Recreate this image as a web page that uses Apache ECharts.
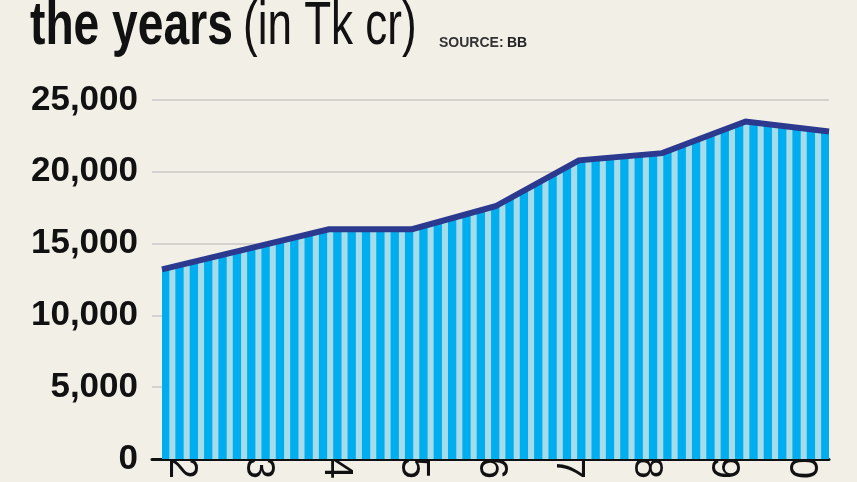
<!DOCTYPE html>
<html>
<head>
<meta charset="utf-8">
<script src="https://cdn.jsdelivr.net/npm/echarts@6/dist/echarts.min.js"></script>
<style>
  html, body { margin: 0; padding: 0; background: #F2EFE7; }
  #chart { width: 857px; height: 482px; }
</style>
</head>
<body>
<div id="chart"></div>
<script>
// ---- data ----
const years = ['2012', '2013', '2014', '2015', '2016', '2017', '2018', '2019', '2020'];
const deposits = [13200, 14600, 16000, 16000, 17600, 20800, 21300, 23500, 22800];
const yMin = 0, yMax = 25000, yStep = 5000;
const titleMain = 'the years';
const titleUnit = '(in Tk cr)';
const sourceLabel = 'SOURCE:';
const sourceName = 'BB';

// ---- striped pattern for the area ----
const period = 14.35, darkW = 8.3, startX = 161;
const pat = document.createElement('canvas');
pat.width = 287; pat.height = 4;
const pctx = pat.getContext('2d');
pctx.fillStyle = '#A6DCEA';
pctx.fillRect(0, 0, pat.width, pat.height);
pctx.fillStyle = '#00AEEF';
const off = startX % period;
for (let k = -1; k <= 21; k++) {
  const x0 = off + k * period;
  pctx.fillRect(x0, 0, darkW, pat.height);
}

const chart = echarts.init(document.getElementById('chart'), null, { renderer: 'canvas' });
const labelFont = '"Liberation Sans", Arial, sans-serif';

chart.setOption({
  backgroundColor: '#F2EFE7',
  animation: false,
  graphic: [
    { type: 'text', x: 30, y: 27, scaleX: 0.745,
      style: { text: titleMain, font: 'bold 62px "Liberation Sans", Arial, sans-serif', fill: '#111', verticalAlign: 'middle', align: 'left' } },
    { type: 'text', x: 243, y: 27, scaleX: 0.71,
      style: { text: titleUnit, font: '62px "Liberation Sans", Arial, sans-serif', fill: '#111', verticalAlign: 'middle', align: 'left' } },
    { type: 'text', x: 439, y: 43,
      style: { text: '{a|' + sourceLabel + '} {b|' + sourceName + '}', verticalAlign: 'middle', align: 'left',
        rich: {
          a: { fontFamily: labelFont, fontSize: 14, fontWeight: 600, fill: '#333', color: '#333' },
          b: { fontFamily: labelFont, fontSize: 14, fontWeight: 'bold', fill: '#222', color: '#222' }
        } } }
  ],
  grid: [
    { left: 152, right: 28, top: 100, bottom: 23 },
    { left: 162, right: 28, top: 100, bottom: 23 },
    { left: 181, right: 56, top: 100, bottom: 23 }
  ],
  xAxis: [
    { type: 'value', gridIndex: 0, min: 0, max: 1,
      axisLine: { show: true, lineStyle: { color: '#111', width: 3 } },
      axisTick: { show: false }, axisLabel: { show: false }, splitLine: { show: false } },
    { type: 'category', gridIndex: 1, data: years, boundaryGap: false, show: false },
    { type: 'category', gridIndex: 2, data: years, boundaryGap: false,
      axisLine: { show: false }, axisTick: { show: false }, splitLine: { show: false },
      axisLabel: { rotate: -90, interval: 0, margin: 11, fontFamily: labelFont, fontWeight: 'normal', fontSize: 40, color: '#111' } }
  ],
  yAxis: [
    { type: 'value', gridIndex: 0, min: yMin, max: yMax, interval: yStep,
      axisLine: { show: false }, axisTick: { show: false },
      axisLabel: { margin: 14, fontFamily: labelFont, fontWeight: 'bold', fontSize: 35, color: '#111',
        formatter: v => v.toLocaleString('en-US') },
      splitLine: { lineStyle: { color: '#D3D2CE', width: 2 } } },
    { type: 'value', gridIndex: 1, min: yMin, max: yMax, show: false, splitLine: { show: false } },
    { type: 'value', gridIndex: 2, min: yMin, max: yMax, show: false, splitLine: { show: false } }
  ],
  series: [
    { type: 'line', xAxisIndex: 1, yAxisIndex: 1, data: deposits, symbol: 'none',
      lineStyle: { color: '#2B3A8F', width: 6, cap: 'butt', join: 'miter' },
      areaStyle: { color: { image: pat, repeat: 'repeat' }, opacity: 1 } }
  ]
});
</script>
</body>
</html>
